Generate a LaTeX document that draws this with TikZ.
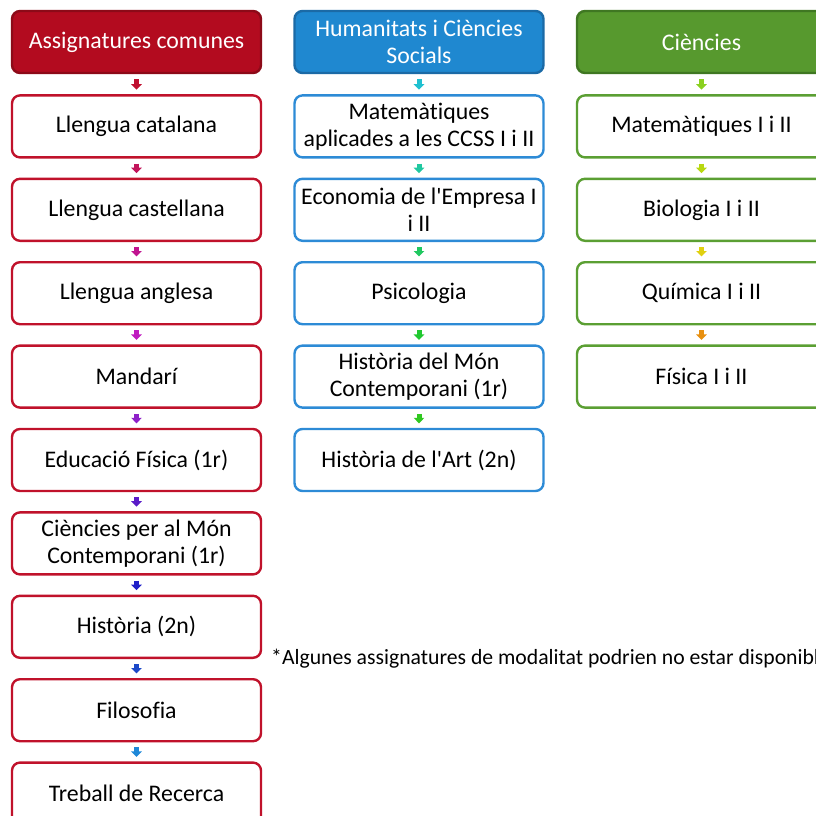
\documentclass[tikz,border=0pt]{standalone}
\usepackage{fontspec}
\setmainfont{Carlito}[Ligatures={NoCommon}]
\usetikzlibrary{arrows.meta}
\definecolor{hred}{HTML}{B30B1F}
\definecolor{hredd}{HTML}{8C0A18}
\definecolor{hblue}{HTML}{1F88D0}
\definecolor{hblued}{HTML}{1B6AA6}
\definecolor{hgreen}{HTML}{57992E}
\definecolor{hgreend}{HTML}{3F7722}
\definecolor{bred}{HTML}{C0122B}
\definecolor{bblue}{HTML}{2D8BD6}
\definecolor{bgreen}{HTML}{5B9F33}
\definecolor{a1}{HTML}{C01030}
\definecolor{a2}{HTML}{C2145A}
\definecolor{a3}{HTML}{C01490}
\definecolor{a4}{HTML}{C01CC0}
\definecolor{a5}{HTML}{8E20C8}
\definecolor{a6}{HTML}{5A1CC8}
\definecolor{a7}{HTML}{2020C8}
\definecolor{a8}{HTML}{1C48C8}
\definecolor{a9}{HTML}{1E88D8}
\definecolor{b1}{HTML}{20C0D0}
\definecolor{b2}{HTML}{20C8A0}
\definecolor{b3}{HTML}{20C860}
\definecolor{b4}{HTML}{20C830}
\definecolor{b5}{HTML}{30C820}
\definecolor{g1}{HTML}{8AD020}
\definecolor{g2}{HTML}{B8D810}
\definecolor{g3}{HTML}{E0D010}
\definecolor{g4}{HTML}{E89010}
\tikzset{
  basebox/.style={rounded corners=8pt, line width=2.4pt, minimum width=249pt, minimum height=62pt, inner sep=1pt, align=center, font=\fontsize{23.8}{26.8}\selectfont},
  headred/.style={basebox, fill=hred, draw=hredd, text=white},
  headblue/.style={basebox, fill=hblue, draw=hblued, text=white},
  headgreen/.style={basebox, fill=hgreen, draw=hgreend, text=white},
  boxred/.style={basebox, fill=white, draw=bred},
  boxblue/.style={basebox, fill=white, draw=bblue},
  boxgreen/.style={basebox, fill=white, draw=bgreen},
  conn/.style={line width=5pt, shorten <=5pt, shorten >=4.5pt, -{Triangle[width=10.5pt,length=5.5pt]}},
  note/.style={anchor=west, inner sep=0pt, font=\fontsize{21.7}{24}\selectfont}
}
\begin{document}
\begin{tikzpicture}[x=1pt,y=-1pt]
\useasboundingbox (0,0) rectangle (815,816);
% column 1
\node[headred] (r0) at (136.5,42) {Assignatures comunes};
\node[boxred] (r1) at (136.5,126.4) {Llengua catalana};
\node[boxred] (r2) at (136.5,209.8) {Llengua castellana};
\node[boxred] (r3) at (136.5,293.2) {Llengua anglesa};
\node[boxred] (r4) at (136.5,376.6) {Mandarí};
\node[boxred] (r5) at (136.5,460) {Educació Física (1r)};
\node[boxred] (r6) at (136.5,543.4) {Ciències per al Món\\Contemporani (1r)};
\node[boxred] (r7) at (136.5,626.8) {Història (2n)};
\node[boxred] (r8) at (136.5,710.2) {Filosofia};
\node[boxred] (r9) at (136.5,793.6) {Treball de Recerca};
\draw[conn,a1] (r0) -- (r1);
\draw[conn,a2] (r1) -- (r2);
\draw[conn,a3] (r2) -- (r3);
\draw[conn,a4] (r3) -- (r4);
\draw[conn,a5] (r4) -- (r5);
\draw[conn,a6] (r5) -- (r6);
\draw[conn,a7] (r6) -- (r7);
\draw[conn,a8] (r7) -- (r8);
\draw[conn,a9] (r8) -- (r9);
% column 2
\node[headblue] (h0) at (419,42) {Humanitats i Ciències\\Socials};
\node[boxblue] (h1) at (419,126.4) {Matemàtiques\\aplicades a les CCSS I i II};
\node[boxblue] (h2) at (419,209.8) {Economia de l\textquotesingle Empresa I\\i II};
\node[boxblue] (h3) at (419,293.2) {Psicologia};
\node[boxblue] (h4) at (419,376.6) {Història del Món\\Contemporani (1r)};
\node[boxblue] (h5) at (419,460) {Història de l\textquotesingle Art (2n)};
\draw[conn,b1] (h0) -- (h1);
\draw[conn,b2] (h1) -- (h2);
\draw[conn,b3] (h2) -- (h3);
\draw[conn,b4] (h3) -- (h4);
\draw[conn,b5] (h4) -- (h5);
% column 3
\node[headgreen] (s0) at (701.5,42) {Ciències};
\node[boxgreen] (s1) at (701.5,126.4) {Matemàtiques I i II};
\node[boxgreen] (s2) at (701.5,209.8) {Biologia I i II};
\node[boxgreen] (s3) at (701.5,293.2) {Química I i II};
\node[boxgreen] (s4) at (701.5,376.6) {Física I i II};
\draw[conn,g1] (s0) -- (s1);
\draw[conn,g2] (s1) -- (s2);
\draw[conn,g3] (s2) -- (s3);
\draw[conn,g4] (s3) -- (s4);
% note
\node[note] (nt) at (271,659) {*Algunes assignatures de modalitat podrien no estar disponibles};
\end{tikzpicture}
\end{document}
